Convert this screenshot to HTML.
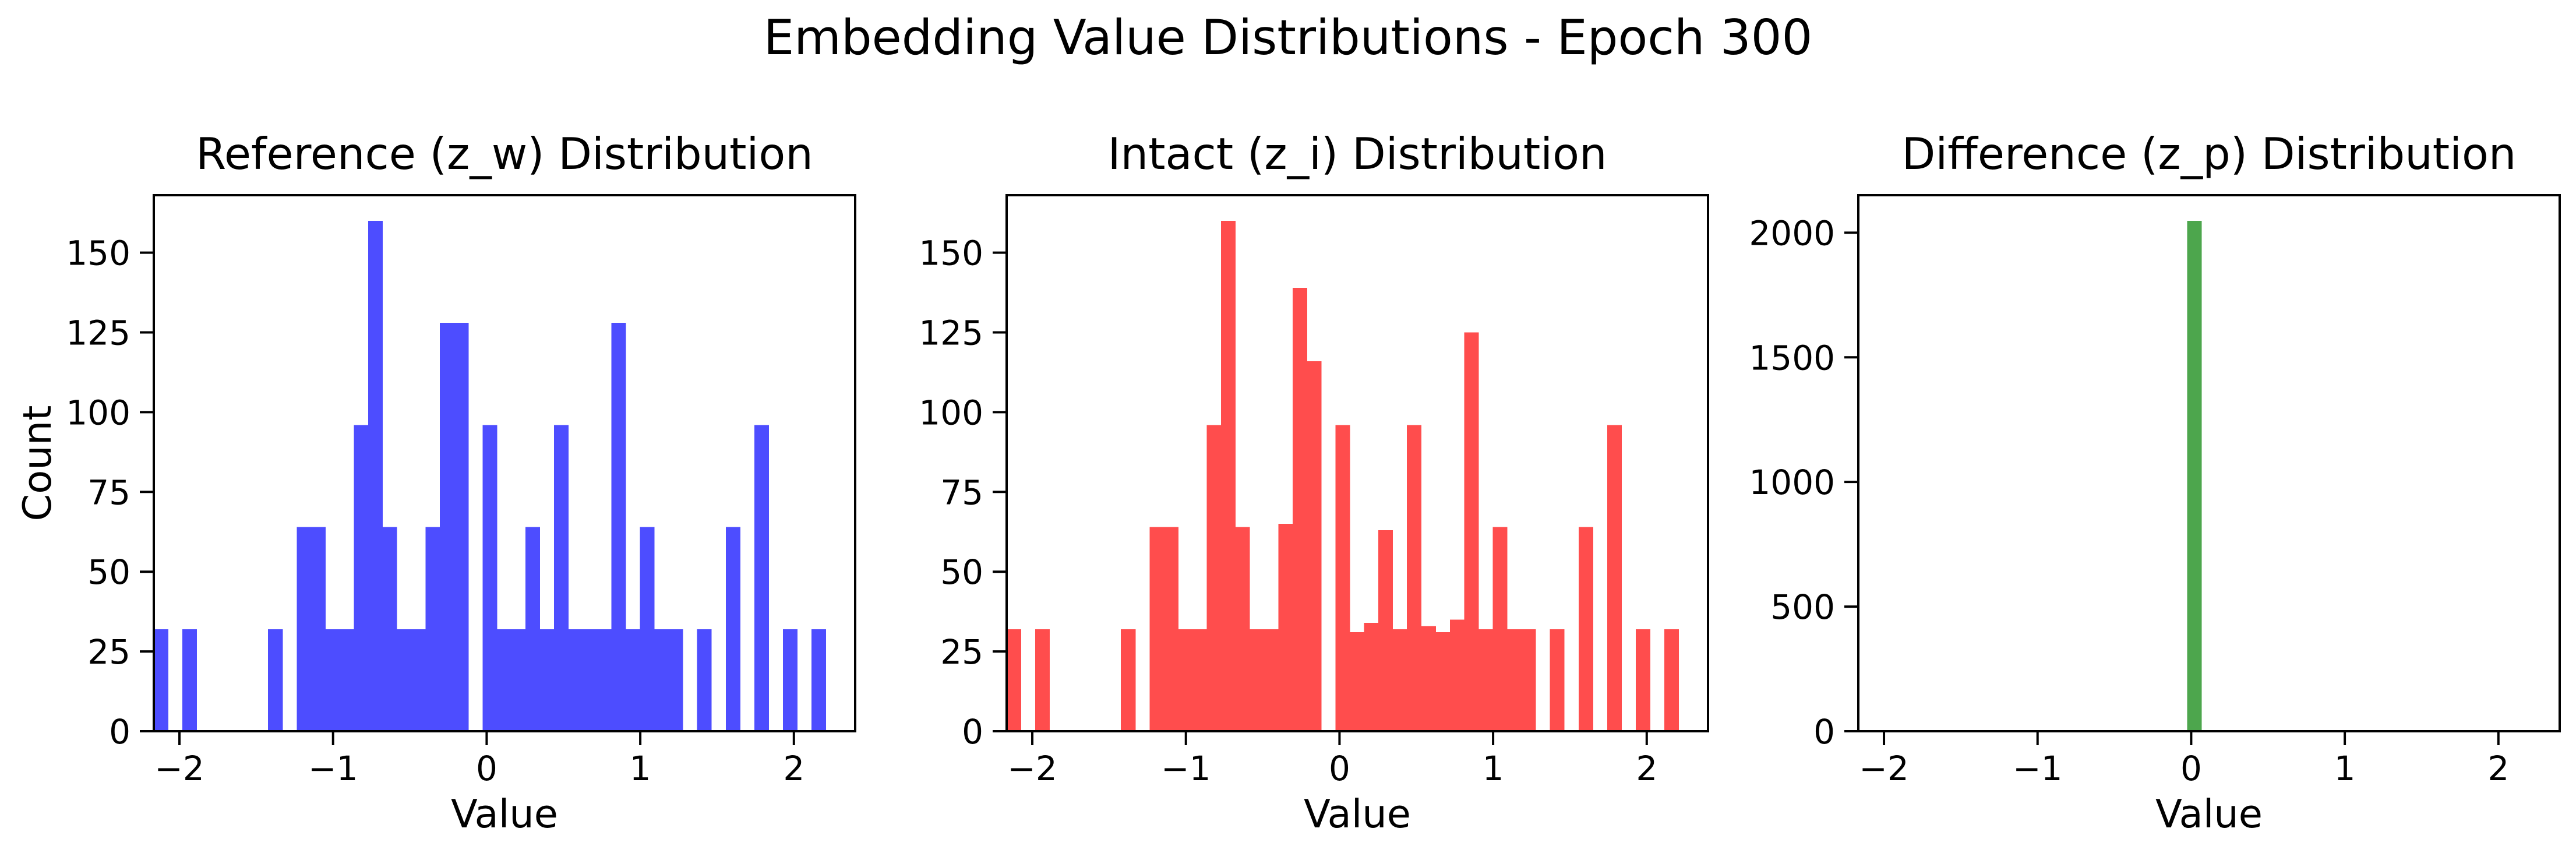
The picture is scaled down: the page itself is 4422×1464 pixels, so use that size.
<!DOCTYPE html>
<html><head><meta charset="utf-8"><style>
html,body{margin:0;padding:0;background:#fff;}
svg{display:block;font-family:"DejaVu Sans","Liberation Sans",sans-serif;}
</style></head><body>
<svg id="fig" width="4422" height="1464" viewBox="0 0 4422 1464" xmlns="http://www.w3.org/2000/svg">
<rect width="4422" height="1464" fill="#fff"/>
<text x="2211" y="93" font-size="83" text-anchor="middle">Embedding Value Distributions - Epoch 300</text>
</svg>
<script>
// Histogram data: 50 bins, edges from binStart with width binWidth
const binStart = -2.447;
const binWidth = 0.0931;
const refCounts = [0,0,0,32,0,32,0,0,0,0,0,32,0,64,64,32,32,96,160,64,32,32,64,128,128,0,96,32,32,64,32,96,32,32,32,128,32,64,32,32,0,32,0,64,0,96,0,32,0,32];
const intactCounts = [0,0,0,32,0,32,0,0,0,0,0,32,0,64,64,32,32,96,160,64,32,32,65,139,116,0,96,31,34,63,32,96,33,31,35,125,32,64,32,32,0,32,0,64,0,96,0,32,0,32];
const diffCounts = [0,0,0,0,0,0,0,0,0,0,0,0,0,0,0,0,0,0,0,0,0,0,0,0,0,0,2048,0,0,0,0,0,0,0,0,0,0,0,0,0,0,0,0,0,0,0,0,0,0,0];
const xTicks = [-2,-1,0,1,2];
const xTickLabels = ["\u22122","\u22121","0","1","2"];
const yTicksA = [0,25,50,75,100,125,150];
const yTicksC = [0,500,1000,1500,2000];
const xMin = -2.167, xMax = 2.399;

const NS = "http://www.w3.org/2000/svg";
const svg = document.getElementById('fig');
function mk(tag, attrs, parent){
  const e = document.createElementNS(NS, tag);
  for (const k in attrs) e.setAttribute(k, attrs[k]);
  (parent||svg).appendChild(e);
  return e;
}
const plotTop = 335, plotBottom = 1255, W = 1204;
const panels = [
  {left:264, counts:refCounts, color:"#4d4dff", title:"Reference (z_w) Distribution", yTicks:yTicksA, yMax:168, key:"reference"},
  {left:1728, counts:intactCounts, color:"#ff4d4d", title:"Intact (z_i) Distribution", yTicks:yTicksA, yMax:168, key:"intact"},
  {left:3190, counts:diffCounts, color:"#4da64d", title:"Difference (z_p) Distribution", yTicks:yTicksC, yMax:2150.4, key:"difference"}
];
panels.forEach((p, pi) => {
  const g = mk('g', {});
  
  
  const xs = v => p.left + (v - xMin) / (xMax - xMin) * W;
  const ys = v => plotBottom - v / p.yMax * (plotBottom - plotTop);
  p.counts.forEach((c, i) => {
    if (c <= 0) return;
    let x0 = xs(binStart + i * binWidth), x1 = xs(binStart + (i + 1) * binWidth) + 0.5;
    x0 = Math.max(x0, p.left); x1 = Math.min(x1, p.left + W);
    if (x1 <= x0) return;
    const r = mk('rect', {x:x0, y:ys(c), width:x1 - x0, height:plotBottom - ys(c), fill:p.color, 'shape-rendering':'crispEdges'}, g);
    
    
  });
  const f = mk('rect', {x:p.left, y:plotTop, width:W, height:plotBottom-plotTop, fill:'none', stroke:'#000', 'stroke-width':4}, g);
  
  
  xTicks.forEach((t, i) => {
    const x = xs(t);
    mk('line', {x1:x, x2:x, y1:plotBottom, y2:plotBottom+24, stroke:'#000', 'stroke-width':4}, g);
    const tx = mk('text', {x:x, y:1339, 'font-size':58, 'text-anchor':'middle'}, g);
    tx.textContent = xTickLabels[i];
    
    
  });
  p.yTicks.forEach(t => {
    const y = ys(t);
    mk('line', {x1:p.left-24, x2:p.left, y1:y, y2:y, stroke:'#000', 'stroke-width':4}, g);
    const ty = mk('text', {x:p.left-40, y:y+21, 'font-size':58, 'text-anchor':'end'}, g);
    ty.textContent = String(t);
    
    
  });
  const tt = mk('text', {x:p.left + W/2, y:290, 'font-size':75, 'text-anchor':'middle'}, g);
  tt.textContent = p.title;
  
  
  const xl = mk('text', {x:p.left + W/2, y:1420, 'font-size':67, 'text-anchor':'middle'}, g);
  xl.textContent = 'Value';
  
  
  if (pi === 0) {
    const yl = mk('text', {x:0, y:0, 'font-size':67, 'text-anchor':'middle', transform:'translate(87,795) rotate(-90)'}, g);
    yl.textContent = 'Count';
    
    
  }
});
</script>
</body></html>
